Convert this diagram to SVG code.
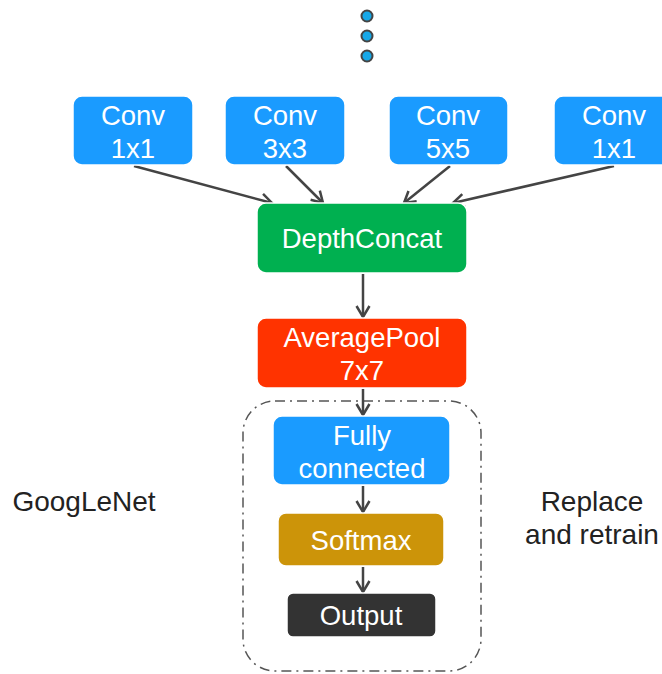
<svg xmlns="http://www.w3.org/2000/svg" width="662" height="674" viewBox="0 0 662 674">
<defs>
<marker id="arr" viewBox="0 0 14 16" refX="12.5" refY="8" markerWidth="14" markerHeight="16" markerUnits="userSpaceOnUse" orient="auto">
<path d="M1.5,1.5 L12.5,8 L1.5,14.5" fill="none" stroke="#444" stroke-width="2.5"/>
</marker>
<style>
.box{stroke:#fff;stroke-width:1.5}
.t{font-family:"Liberation Sans",Arial,sans-serif;font-size:27.5px;fill:#fff;text-anchor:middle}
.lbl{font-family:"Liberation Sans",Arial,sans-serif;font-size:28px;fill:#222;text-anchor:middle}
.c{stroke:#444;stroke-width:2.5;fill:none;marker-end:url(#arr)}
.dot{fill:#16a8e8;stroke:#444;stroke-width:2}
</style>
</defs>
<rect width="662" height="674" fill="#fff"/>
<g id="dots">
<circle class="dot" cx="367" cy="16" r="5.5"/>
<circle class="dot" cx="367" cy="36" r="5.5"/>
<circle class="dot" cx="367" cy="56" r="5.5"/>
</g>
<g id="container">
<rect x="243" y="401" width="238" height="270" rx="32" fill="none" stroke="#555" stroke-width="1.5" stroke-dasharray="10,5,2,5"/>
</g>
<g id="connectors">
<line class="c" x1="134" y1="166" x2="272" y2="203"/>
<line class="c" x1="286" y1="166" x2="323" y2="203"/>
<line class="c" x1="450" y1="166" x2="404" y2="203"/>
<line class="c" x1="614" y1="166" x2="453" y2="203"/>
<line class="c" x1="363" y1="274" x2="363" y2="317"/>
<line class="c" x1="363" y1="389" x2="363" y2="415"/>
<line class="c" x1="363" y1="486" x2="363" y2="512"/>
<line class="c" x1="363" y1="567" x2="363" y2="592"/>
</g>
<g id="conv1">
<rect class="box" x="73" y="96" width="120" height="69" rx="9" fill="#1a9bff"/>
<text class="t" x="133" y="125">Conv</text>
<text class="t" x="133" y="158">1x1</text>
</g>
<g id="conv3">
<rect class="box" x="225" y="96" width="120" height="69" rx="9" fill="#1a9bff"/>
<text class="t" x="285" y="125">Conv</text>
<text class="t" x="285" y="158">3x3</text>
</g>
<g id="conv5">
<rect class="box" x="389" y="96" width="119" height="69" rx="9" fill="#1a9bff"/>
<text class="t" x="448" y="125">Conv</text>
<text class="t" x="448" y="158">5x5</text>
</g>
<g id="conv1b">
<rect class="box" x="554" y="96" width="120" height="69" rx="9" fill="#1a9bff"/>
<text class="t" x="614" y="125">Conv</text>
<text class="t" x="614" y="158">1x1</text>
</g>
<g id="depthconcat">
<rect class="box" x="257" y="203" width="210" height="70" rx="9" fill="#00b050"/>
<text class="t" x="362" y="248">DepthConcat</text>
</g>
<g id="averagepool">
<rect class="box" x="257" y="318" width="210" height="70" rx="9" fill="#ff3300"/>
<text class="t" x="362" y="347">AveragePool</text>
<text class="t" x="362" y="380">7x7</text>
</g>
<g id="fc">
<rect class="box" x="273" y="416" width="177" height="69" rx="9" fill="#1a9bff"/>
<text class="t" x="362" y="445">Fully</text>
<text class="t" x="362" y="478">connected</text>
</g>
<g id="softmax">
<rect class="box" x="278" y="513" width="166" height="53" rx="8" fill="#cc9409"/>
<text class="t" x="361" y="550">Softmax</text>
</g>
<g id="output">
<rect class="box" x="287" y="593" width="149" height="44" rx="6" fill="#333"/>
<text class="t" x="361" y="625">Output</text>
</g>
<g id="labels">
<text class="lbl" x="84" y="511">GoogLeNet</text>
<text class="lbl" x="592" y="511">Replace</text>
<text class="lbl" x="592" y="544">and retrain</text>
</g>
</svg>
